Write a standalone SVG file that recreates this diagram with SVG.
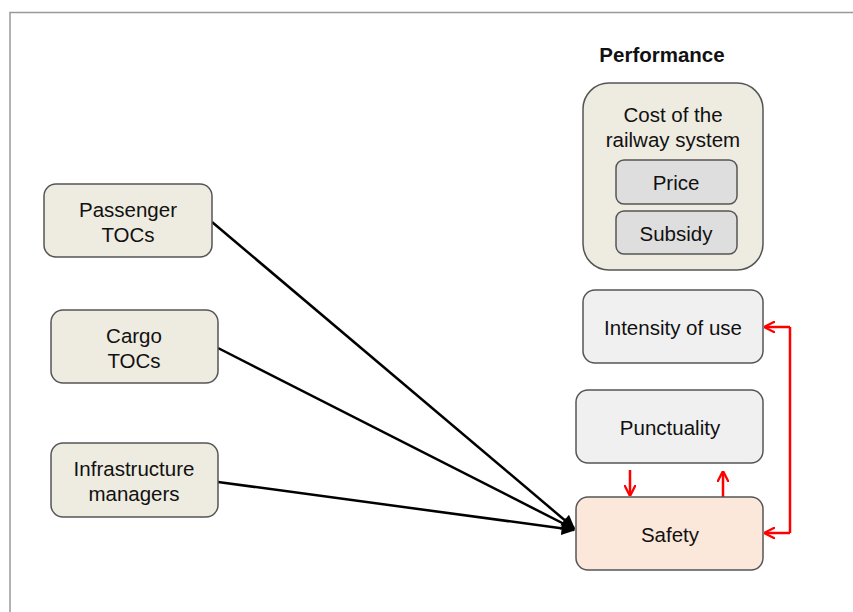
<svg xmlns="http://www.w3.org/2000/svg" width="853" height="612" viewBox="0 0 853 612">
<defs>
<style>
.t{font-family:"Liberation Sans",Arial,sans-serif;font-size:20.5px;fill:#111;text-anchor:middle}
.b{stroke:#555;stroke-width:1.5}
.beige{fill:#eeebe0}
.gray{fill:#dedede}
.light{fill:#f0f0f0}
.peach{fill:#fce8da}
.blk{stroke:#000;stroke-width:2.5;fill:none}
.red{stroke:#f00;stroke-width:2.5;fill:none}
</style>
<marker id="ab" viewBox="0 0 10 10" refX="9" refY="5" markerWidth="5.5" markerHeight="5.5" orient="auto" markerUnits="strokeWidth"><path d="M0,0 L10,5 L0,10 z" fill="#000"/></marker>
<marker id="ar" viewBox="0 0 10 10" refX="9" refY="5" markerWidth="4.5" markerHeight="4.5" orient="auto" markerUnits="strokeWidth"><path d="M0,0 L10,5 L0,10" fill="none" stroke="#f00" stroke-width="2"/></marker>
</defs>
<rect width="853" height="612" fill="#fff"/>
<path d="M10,612 V12.5 H853" fill="none" stroke="#999" stroke-width="1.5"/>
<text class="t" x="662" y="62" style="font-weight:bold">Performance</text>
<g id="connectors">
<line class="blk" x1="212" y1="222" x2="574" y2="528" marker-end="url(#ab)"/>
<line class="blk" x1="218" y1="348" x2="574" y2="529" marker-end="url(#ab)"/>
<line class="blk" x1="218" y1="482" x2="574" y2="530" marker-end="url(#ab)"/>
<line class="red" x1="630" y1="470" x2="630" y2="495" marker-end="url(#ar)"/>
<line class="red" x1="723" y1="497" x2="723" y2="472" marker-end="url(#ar)"/>
<path class="red" d="M790,327 V533"/>
<line class="red" x1="790" y1="327" x2="765" y2="327" marker-end="url(#ar)"/>
<line class="red" x1="790" y1="533" x2="765" y2="533" marker-end="url(#ar)"/>
</g>
<g id="passenger"><rect class="b beige" x="44" y="184" width="168" height="73" rx="12"/><text class="t" x="128" y="217">Passenger</text><text class="t" x="128" y="242">TOCs</text></g>
<g id="cargo"><rect class="b beige" x="51" y="310" width="167" height="73" rx="12"/><text class="t" x="134" y="343">Cargo</text><text class="t" x="134" y="368">TOCs</text></g>
<g id="infra"><rect class="b beige" x="51" y="443" width="167" height="74" rx="12"/><text class="t" x="134" y="476">Infrastructure</text><text class="t" x="134" y="501">managers</text></g>
<g id="cost"><rect class="b beige" x="583" y="83" width="180" height="187" rx="26"/><text class="t" x="673" y="122">Cost of the</text><text class="t" x="673" y="147">railway system</text></g>
<g id="price"><rect class="b gray" x="616" y="160" width="121" height="44" rx="8"/><text class="t" x="676" y="190">Price</text></g>
<g id="subsidy"><rect class="b gray" x="616" y="211" width="121" height="43" rx="8"/><text class="t" x="676" y="241">Subsidy</text></g>
<g id="intensity"><rect class="b light" x="583" y="290" width="180" height="73" rx="12"/><text class="t" x="673" y="335">Intensity of use</text></g>
<g id="punctuality"><rect class="b light" x="576" y="390" width="187" height="73" rx="12"/><text class="t" x="670" y="435">Punctuality</text></g>
<g id="safety"><rect class="b peach" x="576" y="497" width="187" height="73" rx="12"/><text class="t" x="670" y="542">Safety</text></g>
</svg>
